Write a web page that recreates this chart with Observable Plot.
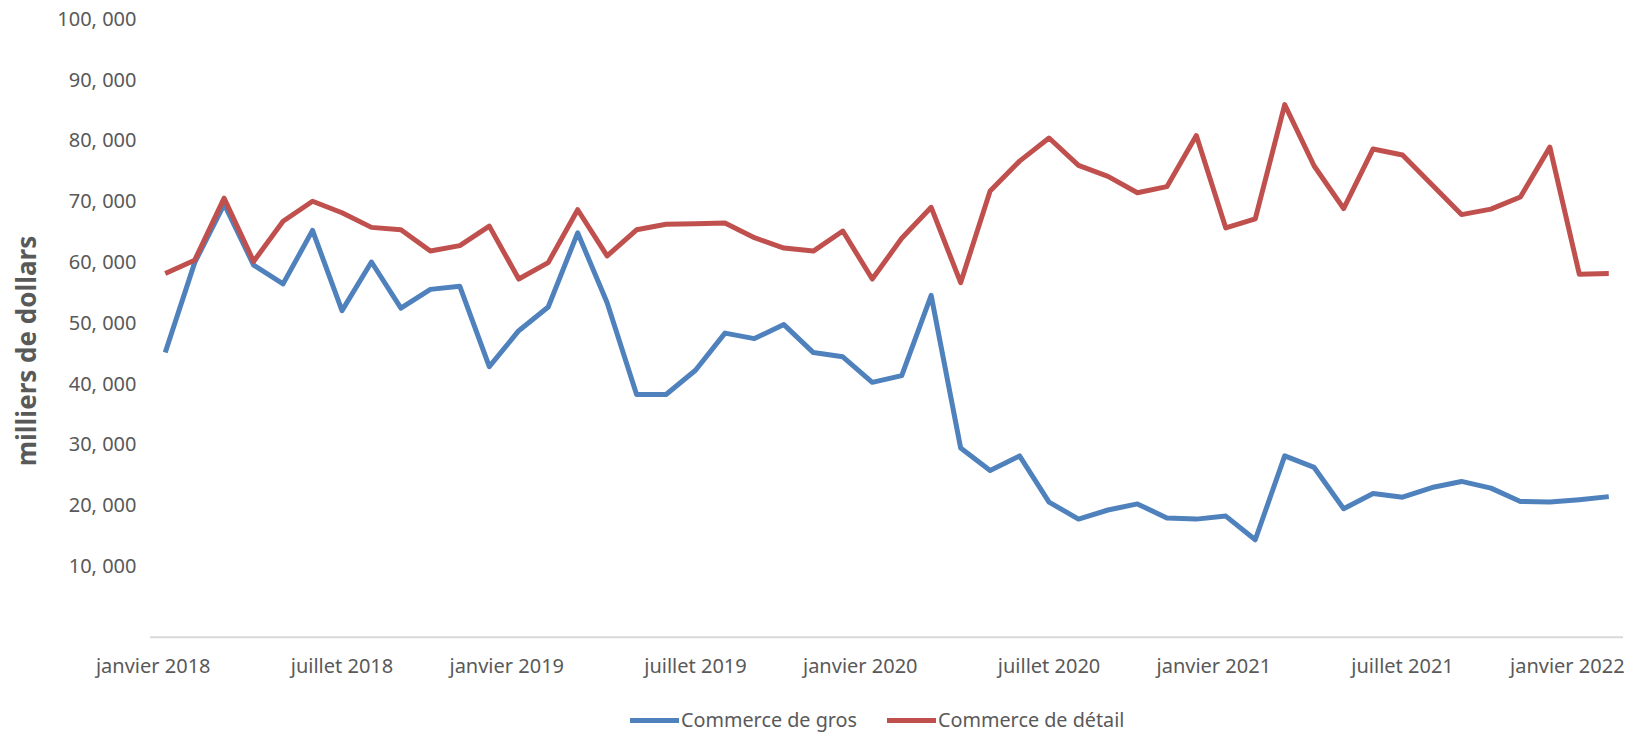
<!DOCTYPE html>
<html>
<head>
<meta charset="utf-8">
<script src="https://cdn.jsdelivr.net/npm/d3@7"></script>
<script src="https://cdn.jsdelivr.net/npm/@observablehq/plot@0.6"></script>
<style>
  body { margin: 0; background: #fff; font-family: "Noto Sans", sans-serif; }
  #wrap { position: relative; width: 1638px; }
  #ytitle { position: absolute; left: 26px; top: 351px; transform: translate(-50%, -50%) rotate(-90deg); font-size: 26px; font-weight: bold; color: #595959; white-space: nowrap; line-height: 30px; }
  #legend { position: relative; width: 1638px; height: 42px; }
  .item { position: absolute; top: 16px; display: flex; align-items: center; font-size: 19.8px; color: #595959; line-height: 28px; white-space: nowrap; }
  .sw { width: 49px; height: 5px; margin-right: 2px; }
</style>
</head>
<body>
<div id="wrap"><div id="chart"></div><div id="ytitle"></div></div>
<div id="legend"></div>
<script>
// Monthly categories: janvier 2018 .. février 2022
const months = d3.utcMonths(new Date(Date.UTC(2018, 0, 1)), new Date(Date.UTC(2022, 2, 1)));

const seriesNames = ["Commerce de gros", "Commerce de détail"];
const seriesColors = ["#4F81BD", "#C0504D"];

// milliers de dollars
const gros = [
  45200, 60000, 69600, 59600, 56500, 65300, 52100, 60100, 52500, 55600,
  56100, 42900, 48800, 52700, 64900, 53400, 38300, 38300, 42300, 48400,
  47500, 49800, 45200, 44500, 40300, 41400, 54600, 29500, 25800, 28200,
  20600, 17800, 19300, 20300, 18000, 17800, 18300, 14400, 28200, 26300,
  19500, 22000, 21400, 23000, 24000, 22900, 20700, 20600, 21000, 21500
];
const detail = [
  58200, 60400, 70600, 60200, 66800, 70100, 68200, 65800, 65400, 61900,
  62800, 66000, 57300, 60000, 68700, 61100, 65400, 66300, 66400, 66500,
  64100, 62400, 61900, 65200, 57300, 64000, 69100, 56700, 71800, 76700,
  80500, 76000, 74200, 71500, 72500, 80900, 65700, 67200, 86000, 75900,
  68900, 78700, 77700, 72800, 67900, 68800, 70800, 79000, 58100, 58200
];

const janTicks = ["2018-01", "2019-01", "2020-01", "2021-01", "2022-01"];
const janLabels = ["janvier 2018", "janvier 2019", "janvier 2020", "janvier 2021", "janvier 2022"];
const julTicks = ["2018-07", "2019-07", "2020-07", "2021-07"];
const julLabels = ["juillet 2018", "juillet 2019", "juillet 2020", "juillet 2021"];
const yTicks = [10000, 20000, 30000, 40000, 50000, 60000, 70000, 80000, 90000, 100000];
const yTitle = "milliers de dollars";

const monthKey = d => d3.utcFormat("%Y-%m")(d);
const idxOf = k => months.findIndex(m => monthKey(m) === k);

const rows = [];
months.forEach((m, i) => {
  rows.push({i, series: seriesNames[0], value: gros[i]});
});
months.forEach((m, i) => {
  rows.push({i, series: seriesNames[1], value: detail[i]});
});

const janIdx = janTicks.map(idxOf);
const julIdx = julTicks.map(idxOf);
const fmtY = d => d3.format(",")(d).replace(",", ", ");

const chart = Plot.plot({
  width: 1638,
  height: 690,
  marginLeft: 150,
  marginRight: 15,
  marginTop: 19,
  marginBottom: 63.2,
  style: {fontFamily: "'Noto Sans', sans-serif", fontSize: "20px", color: "#595959", background: "#fff"},
  x: {type: "linear", domain: [-0.5, months.length - 0.5]},
  y: {domain: [0, 100000]},
  color: {domain: seriesNames, range: seriesColors},
  marks: [
    Plot.ruleY([0], {stroke: "#D9D9D9", strokeWidth: 2, dy: 10}),
    Plot.axisY(yTicks, {tickSize: 0, tickPadding: 14, tickFormat: fmtY, label: null, fill: "#595959"}),
    Plot.axisX(janIdx, {tickSize: 0, tickPadding: 31, tickFormat: (d) => janLabels[janIdx.indexOf(d)], label: null, dx: -12, fill: "#595959"}),
    Plot.axisX(julIdx, {tickSize: 0, tickPadding: 31, tickFormat: (d) => julLabels[julIdx.indexOf(d)], label: null, fill: "#595959"}),
    Plot.line(rows, {x: "i", y: "value", z: "series", stroke: "series", strokeWidth: 5, strokeLinejoin: "round", strokeLinecap: "butt"})
  ]
});
document.getElementById("chart").appendChild(chart);
document.getElementById("ytitle").textContent = yTitle;

const legend = document.getElementById("legend");
const lefts = [630, 887];
seriesNames.forEach((name, k) => {
  const item = document.createElement("div");
  item.className = "item";
  item.style.left = lefts[k] + "px";
  const sw = document.createElement("span");
  sw.className = "sw";
  sw.style.background = seriesColors[k];
  const t = document.createElement("span");
  t.textContent = name;
  item.appendChild(sw);
  item.appendChild(t);
  legend.appendChild(item);
});
</script>
</body>
</html>
